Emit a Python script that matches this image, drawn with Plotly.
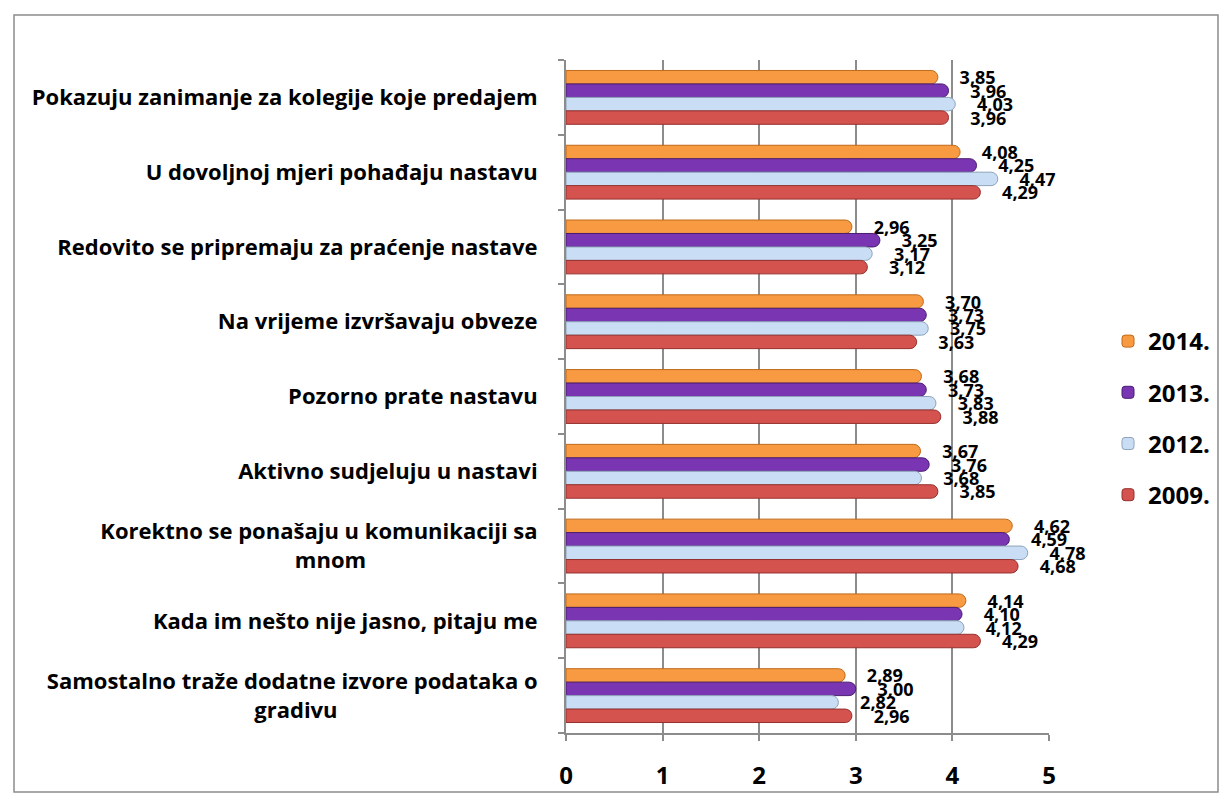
import plotly.graph_objects as go

categories = [
    "Pokazuju zanimanje za kolegije koje predajem",
    "U dovoljnoj mjeri pohađaju nastavu",
    "Redovito se pripremaju za praćenje nastave",
    "Na vrijeme izvršavaju obveze",
    "Pozorno prate nastavu",
    "Aktivno sudjeluju u nastavi",
    "Korektno se ponašaju u komunikaciji sa mnom",
    "Kada im nešto nije jasno, pitaju me",
    "Samostalno traže dodatne izvore podataka o gradivu",
]
# displayed (wrapped) tick labels; second lines centred under the first
NB = "\u00a0"
tick_labels = [
    "Pokazuju zanimanje za kolegije koje predajem",
    "U dovoljnoj mjeri pohađaju nastavu",
    "Redovito se pripremaju za praćenje nastave",
    "Na vrijeme izvršavaju obveze",
    "Pozorno prate nastavu",
    "Aktivno sudjeluju u nastavi",
    "Korektno se ponašaju u komunikaciji sa<br>mnom" + NB * 30,
    "Kada im nešto nije jasno, pitaju me",
    "Samostalno traže dodatne izvore podataka o<br>gradivu" + NB * 35,
]
series_names = ["2014.", "2013.", "2012.", "2009."]
v2014 = [3.85, 4.08, 2.96, 3.70, 3.68, 3.67, 4.62, 4.14, 2.89]
v2013 = [3.96, 4.25, 3.25, 3.73, 3.73, 3.76, 4.59, 4.10, 3.00]
v2012 = [4.03, 4.47, 3.17, 3.75, 3.83, 3.68, 4.78, 4.12, 2.82]
v2009 = [3.96, 4.29, 3.12, 3.63, 3.88, 3.85, 4.68, 4.29, 2.96]
tick_vals = [0, 1, 2, 3, 4, 5]

values = [v2014, v2013, v2012, v2009]
fills = ["#F79A42", "#7A35B2", "#C9DDF4", "#D5534F"]
lines = ["#C06A1A", "#4A1C70", "#8EA3BA", "#94302D"]

FONT = "Open Sans, Noto Sans, sans-serif"
W, H = 1227, 808
L, T = 558, 52
PW, PH = 483, 673
R = W - L - PW
B = H - T - PH

fig = go.Figure()
for name, vals, fc, lc in zip(series_names, values, fills, lines):
    fig.add_trace(go.Bar(
        y=categories, x=vals, orientation="h", name=name,
        legendgroup=name,
        marker=dict(color=fc, line=dict(color=lc, width=1), cornerradius="50%"),
        text=[NB * 4 + f"{v:.2f}".replace(".", ",") for v in vals],
        textposition="outside", constraintext="none", cliponaxis=False,
        textfont=dict(family=FONT, size=18, color="black", weight="bold"),
        hoverinfo="x+y",
    ))

def px_x(p):
    return (p - L) / PW

def px_y(p):
    return (H - B - p) / PH

fig.add_shape(type="rect", xref="paper", yref="paper",
              x0=px_x(6), x1=px_x(1210), y0=px_y(784), y1=px_y(7),
              line=dict(color="#8C8C8C", width=1.5), fillcolor="rgba(0,0,0,0)", layer="below")

fig.update_layout(
    width=W, height=H,
    margin=dict(l=L, r=R, t=T, b=B),
    paper_bgcolor="white", plot_bgcolor="white",
    barmode="group", bargap=0.28, bargroupgap=0.0,
    font=dict(family=FONT, color="black"),
    xaxis=dict(range=[0, 5], tickvals=tick_vals, showgrid=True, gridcolor="#8C8C8C", gridwidth=2,
               showline=True, linecolor="#8C8C8C", linewidth=2, ticks="outside", ticklen=6,
               tickcolor="#8C8C8C", tickwidth=2, zeroline=False, ticklabelstandoff=14,
               tickfont=dict(size=24, weight="bold", family=FONT)),
    yaxis=dict(autorange="reversed", showline=True, linecolor="#8C8C8C", linewidth=2,
               tickmode="array", tickvals=categories, ticktext=tick_labels,
               ticks="outside", tickson="boundaries", ticklen=6, tickcolor="#8C8C8C", tickwidth=2,
               ticklabelstandoff=22, showgrid=False,
               tickfont=dict(size=22, weight="bold", family=FONT)),
    legend=dict(x=px_x(1100), xanchor="left", y=px_y(311), yanchor="top",
                font=dict(size=24, weight="bold", family=FONT),
                tracegroupgap=17, itemwidth=30, traceorder="grouped"),
    showlegend=True,
)

fig.write_html("out.html")
